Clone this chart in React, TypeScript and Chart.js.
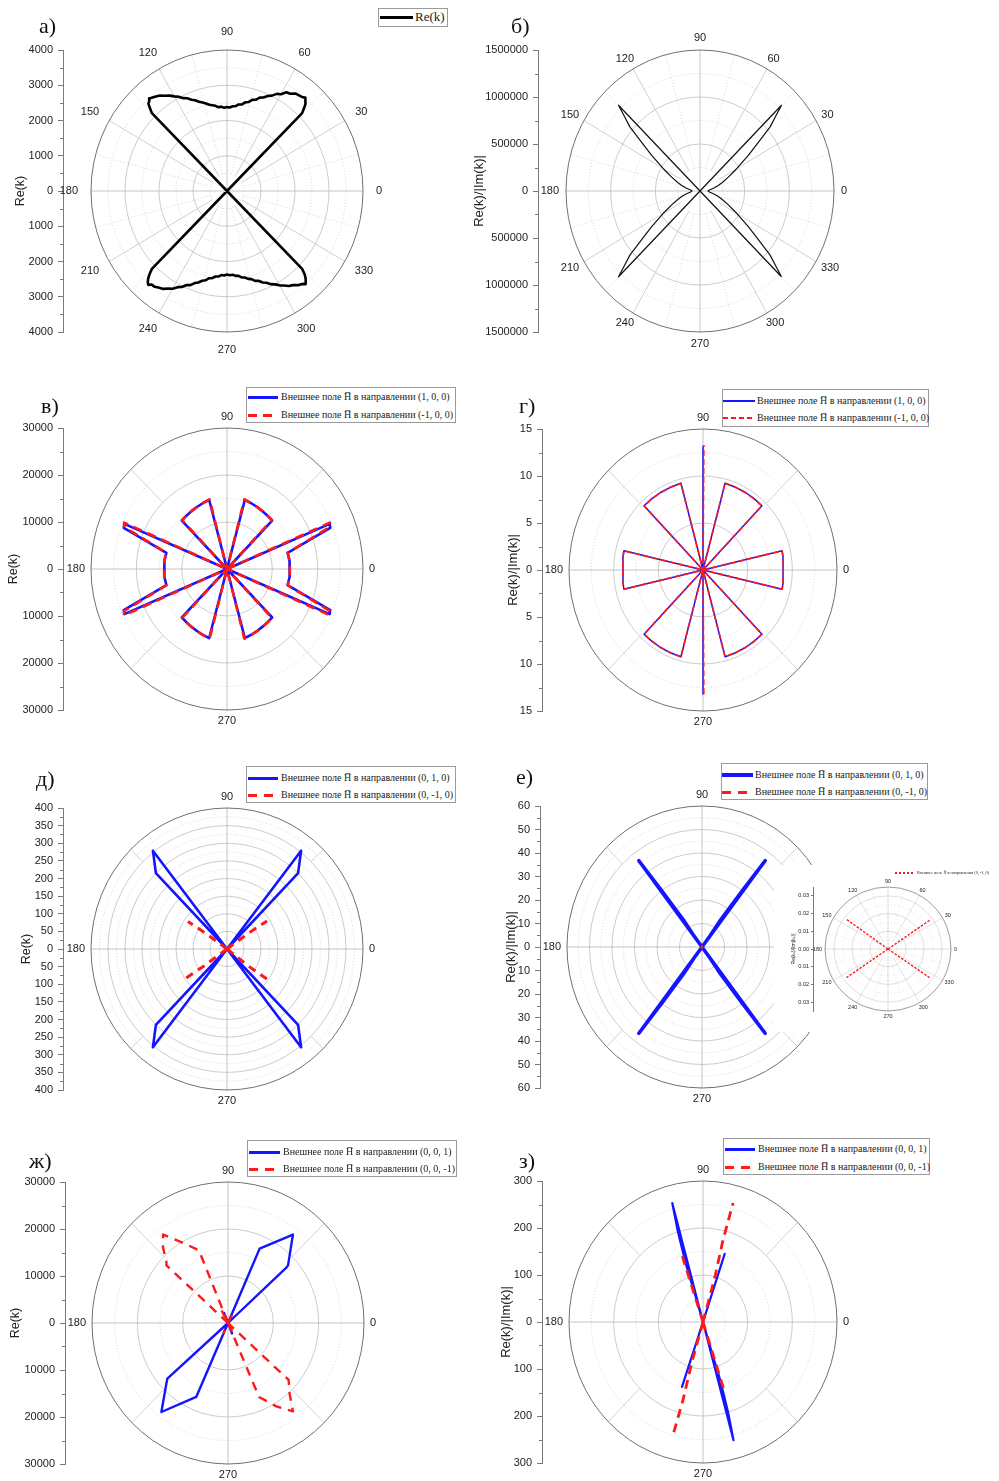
import React, { useEffect, useRef } from 'react';
import { Chart, registerables } from 'chart.js';

Chart.register(...registerables);

const SANS = '"Liberation Sans", Arial, sans-serif';
const SERIF = '"Liberation Serif", "Times New Roman", serif';
const BLUE = '#1414ff';
const RED = '#ff1a1a';

// ---------- Tick values (left linear axes) ----------
const aTicks = [-4000, -3000, -2000, -1000, 0, 1000, 2000, 3000, 4000];
const bTicks = [-1500000, -1000000, -500000, 0, 500000, 1000000, 1500000];
const vTicks = [-30000, -20000, -10000, 0, 10000, 20000, 30000];
const gTicks = [-15, -10, -5, 0, 5, 10, 15];
const dTicks = [-400, -350, -300, -250, -200, -150, -100, -50, 0, 50, 100, 150, 200, 250, 300, 350, 400];
const eTicks = [-60, -50, -40, -30, -20, -10, 0, 10, 20, 30, 40, 50, 60];
const insetTicks = [-0.03, -0.02, -0.01, 0, 0.01, 0.02, 0.03];
const zhTicks = [-30000, -20000, -10000, 0, 10000, 20000, 30000];
const zTicks = [-300, -200, -100, 0, 100, 200, 300];

// ---------- а) Re(k) ----------
const aUpperTheta = [45, 46, 47, 48, 49, 50, 52, 54, 56, 58, 60, 62, 64, 66, 68, 70, 72, 74, 76, 78, 80, 82, 84, 86, 88, 90, 92, 94, 96, 98, 100, 102, 104, 106, 108, 110, 112, 114, 116, 118, 120, 122, 124, 126, 128, 130, 131, 132, 133, 134, 135];
const aUpperR = [3125, 3260, 3390, 3450, 3510, 3470, 3440, 3420, 3330, 3300, 3170, 3120, 3010, 2950, 2860, 2820, 2720, 2690, 2600, 2570, 2490, 2480, 2420, 2410, 2370, 2380, 2360, 2400, 2390, 2440, 2470, 2500, 2560, 2610, 2660, 2740, 2790, 2880, 2930, 3030, 3100, 3190, 3260, 3350, 3400, 3450, 3480, 3420, 3390, 3260, 3125];
const aLowerTheta = [225, 226, 227, 228, 229, 230, 232, 234, 236, 238, 240, 242, 244, 246, 248, 250, 252, 254, 256, 258, 260, 262, 264, 266, 268, 270, 272, 274, 276, 278, 280, 282, 284, 286, 288, 290, 292, 294, 296, 298, 300, 302, 304, 306, 308, 310, 311, 312, 313, 314, 315];
const aLowerR = [3125, 3280, 3400, 3480, 3530, 3460, 3450, 3390, 3350, 3260, 3200, 3090, 3030, 2920, 2880, 2780, 2730, 2650, 2610, 2530, 2510, 2450, 2440, 2390, 2400, 2370, 2390, 2380, 2420, 2430, 2490, 2510, 2570, 2600, 2680, 2710, 2800, 2850, 2940, 3000, 3090, 3160, 3250, 3300, 3390, 3440, 3500, 3450, 3400, 3290, 3125];

// ---------- б) Re(k)/|Im(k)| ----------
const bRightTheta = [-45, -43, -41, -38, -35, -30, -25, -20, -16, -12, -7, -3, 0, 3, 7, 12, 16, 20, 25, 30, 35, 38, 41, 43, 45];
const bRightR = [1290000, 1150000, 1040000, 810000, 660000, 474000, 350000, 265000, 213000, 165000, 113000, 95000, 90000, 95000, 113000, 165000, 213000, 265000, 350000, 474000, 660000, 810000, 1040000, 1150000, 1290000];
const bLeftTheta = [225, 223, 221, 218, 215, 210, 205, 200, 196, 192, 187, 183, 180, 177, 173, 168, 164, 160, 155, 150, 145, 142, 139, 137, 135];
const bLeftR = [1290000, 1150000, 1040000, 810000, 660000, 474000, 350000, 265000, 213000, 165000, 113000, 95000, 90000, 95000, 113000, 165000, 213000, 265000, 350000, 474000, 660000, 810000, 1040000, 1150000, 1290000];

// ---------- в) ----------
const vBlueTheta = [23, 23, 21, 14.3, 7, 0, -7, -14.3, -21, -23, -23, -46, -51, -57, -63, -69, -75, -75, -105, -111, -117, -123, -129, -134, -134, -157, -159, -165.7, -173, 180, 173, 165.7, 159, 157, 157, 134, 129, 123, 117, 111, 105, 105, 75, 69, 63, 57, 51, 46, 46];
const vBlueR = [0, 24600, 24400, 13800, 13900, 13830, 13900, 13800, 24400, 24600, 0, 14340, 14420, 14560, 14750, 14980, 15250, 0, 15250, 14980, 14750, 14560, 14420, 14340, 0, 24600, 24400, 13800, 13900, 13830, 13900, 13800, 24400, 24600, 0, 14340, 14420, 14560, 14750, 14980, 15250, 0, 15250, 14980, 14750, 14560, 14420, 14340, 0];
const vRedTheta = [23.5, 23.5, 21.5, 14.5, 7, 0, -7, -14.5, -21.5, -23.5, -23.5, -46.5, -51, -57, -63, -69, -75.5, -75.5, -104.5, -111, -117, -123, -129, -133.5, -133.5, -156.5, -158.5, -165.5, -173, 180, 173, 165.5, 158.5, 156.5, 156.5, 133.5, 129, 123, 117, 111, 104.5, 104.5, 75.5, 69, 63, 57, 51, 46.5, 46.5];
const vRedR = [0, 24750, 24350, 13850, 13950, 13880, 13950, 13850, 24350, 24750, 0, 14380, 14450, 14600, 14780, 15000, 15300, 0, 15300, 15000, 14780, 14600, 14450, 14380, 0, 24750, 24350, 13850, 13950, 13880, 13950, 13850, 24350, 24750, 0, 14380, 14450, 14600, 14780, 15000, 15300, 0, 15300, 15000, 14780, 14600, 14450, 14380, 0];

// ---------- г) ----------
const gBlueTheta = [13, 13, 9, 5, 0, -5, -9, -13, -13, -46, -53, -60, -67, -75, -75, -90, -90, -105, -113, -120, -127, -134, -134, -167, -171, -175, 180, 175, 171, 167, 167, 134, 127, 120, 113, 105, 105, 90, 90, 75, 67, 60, 53, 46, 46];
const gBlueR = [0, 9.08, 9.07, 8.99, 8.96, 8.99, 9.07, 9.08, 0, 9.5, 9.5, 9.52, 9.53, 9.55, 0, 13.2, 0, 9.55, 9.53, 9.52, 9.5, 9.5, 0, 9.08, 9.07, 8.99, 8.96, 8.99, 9.07, 9.08, 0, 9.5, 9.5, 9.52, 9.53, 9.55, 0, 13.1, 0, 9.55, 9.53, 9.52, 9.5, 9.5, 0];
const gRedTheta = [13, 13, 9, 5, 0, -5, -9, -13, -13, -46, -53, -60, -67, -75, -75, -89.6, -89.6, -89.6, -105, -113, -120, -127, -134, -134, -167, -171, -175, 180, 175, 171, 167, 167, 134, 127, 120, 113, 105, 105, 89.6, 89.6, 89.6, 75, 67, 60, 53, 46, 46];
const gRedR = [0, 9.1, 9.06, 9.0, 8.98, 9.0, 9.06, 9.1, 0, 9.48, 9.5, 9.5, 9.52, 9.56, 0, 13.3, null, 0, 9.56, 9.52, 9.5, 9.5, 9.48, 0, 9.1, 9.06, 9.0, 8.98, 9.0, 9.06, 9.1, 0, 9.48, 9.5, 9.5, 9.52, 9.56, 0, 13.3, null, 0, 9.56, 9.52, 9.5, 9.5, 9.48, 0];

// ---------- д) ----------
const dBlueTheta = [52, 52, 45.8, 45.8, 128, 134.2, 134.2, 232, 225.8, 225.8, 308, 314.2, 314.2];
const dBlueR = [0, 354, 300, 0, 354, 300, 0, 354, 300, 0, 354, 300, 0];
const dRedTheta = [34, 35.5, 34, 34, 145.7, 144.5, 145.7, 145.7, 214.3, 215.5, 214.3, 214.3, 324, 322.5, 324];
const dRedR = [0, 75, 142, null, 0, 70, 139, null, 0, 80, 150.8, null, 0, 78, 145];

// ---------- е) ----------
const eBlueTheta = [52.6, 52.6, 53.3, 54.5, 53, 52.6, 127.4, 127.4, 126.7, 125.5, 127, 127.4, 232.6, 232.6, 233.3, 234.5, 233, 232.6, 307.4, 307.4, 306.7, 305.5, 307, 307.4];
const eBlueR = [0, 46.3, 30, 14, 5, 0, 0, 46.3, 30, 14, 5, 0, 0, 46.3, 30, 14, 5, 0, 0, 46.3, 30, 14, 5, 0];
const eRedTheta = [35, 35, 35, 144, 144, 144, 215, 215, 215, 325, 325];
const eRedR = [0, 0.0284, null, 0, 0.029, null, 0, 0.029, null, 0, 0.0283];

// ---------- ж) ----------
const zhBlueTheta = [66.2, 66.2, 52.7, 42.8, 42.5, 42.5, 112, 112, 221.5, 221.5, 223.5, 232.2, 246, 246, 292, 292];
const zhBlueR = [0, 17290, 23640, 18050, 17536, 0, 2300, 0, 0, 17870, 18750, 23970, 17225, 0, 2400, 0];
const zhRedTheta = [112.5, 112.5, 120.9, 127.3, 131.6, 136.5, 137.9, 137.9, 118, 118, 62, 62, 62, 293.5, 293.5, 301, 307.3, 312.1, 317.8, 317.8, 245, 245, 298, 298];
const zhRedR = [0, 16740, 20075, 23640, 21611, 18700, 18320, 0, 3000, null, 0, 2400, null, 0, 17166, 20685, 23640, 20275, 18050, 0, 2600, null, 0, 2800];

// ---------- з) ----------
const zBlueTheta = [105.2, 105.2, 106.3, 107.3, 107, 107, 71.5, 71.5, 285.2, 286.3, 287.3, 287, 287, 251.2, 251.2];
const zBlueR = [0, 262, 200, 130, 60, 0, 153, 0, 260.5, 200, 130, 60, 0, 146, 0];
const zRedTheta = [74.5, 74.5, 75.6, 75.1, 75.1, 108.3, 108.3, 108.3, 253.8, 253.8, 254.9, 254.4, 254.4, 288, 288];
const zRedR = [0, 100, 180, 262, null, 0, 149.5, null, 0, 90, 170, 250, null, 0, 149.5];

// ---------- legend texts ----------
const fieldLabel = (d: string) => `Внешнее поле H\u0305 в направлении (${d})`;
const dirsX = ['1, 0, 0', '-1, 0, 0'];
const dirsY = ['0, 1, 0', '0, -1, 0'];
const dirsZ = ['0, 0, 1', '0, 0, -1'];

const toXY = (theta: number[], r: (number | null)[]) =>
  theta.map((t, i) => {
    const v = r[i];
    if (v === null || v === undefined) return { x: NaN, y: NaN };
    return { x: v * Math.cos((t * Math.PI) / 180), y: v * Math.sin((t * Math.PI) / 180) };
  });

const polarPlugin = {
  id: 'polarGrid',
  beforeDatasetsDraw(chart: any, _args: any, o: any) {
    const ctx = chart.ctx;
    const xs = chart.scales.x;
    const ys = chart.scales.y;
    const cx = xs.getPixelForValue(0);
    const cy = ys.getPixelForValue(0);
    const R = o.R;
    const kx = (xs.getPixelForValue(R) - cx) / R;
    const ky = (cy - ys.getPixelForValue(R)) / R;
    const lw = o.gridWidth;
    ctx.save();
    const n = Math.round(R / o.minor);
    const per = Math.round(o.major / o.minor);
    for (let i = 1; i < n; i++) {
      const v = i * o.minor;
      const isMajor = i % per === 0;
      ctx.beginPath();
      ctx.setLineDash(isMajor ? [] : [1, 2]);
      ctx.strokeStyle = isMajor ? '#bfbfbf' : '#cdcdcd';
      ctx.lineWidth = lw;
      ctx.ellipse(cx, cy, v * kx, v * ky, 0, 0, Math.PI * 2);
      ctx.stroke();
    }
    const ray = (a: number, r0: number, r1: number, dash: number[], col: string) => {
      const c = Math.cos((a * Math.PI) / 180);
      const s = Math.sin((a * Math.PI) / 180);
      ctx.beginPath();
      ctx.setLineDash(dash);
      ctx.strokeStyle = col;
      ctx.lineWidth = lw;
      ctx.moveTo(cx + r0 * kx * c, cy - r0 * ky * s);
      ctx.lineTo(cx + r1 * kx * c, cy - r1 * ky * s);
      ctx.stroke();
    };
    if (o.mode === 'full') {
      for (let a = 0; a < 360; a += 15) {
        if (a % 90 === 0) ray(a, 0, R, [], '#b8b8b8');
        else if (a % 30 === 0) ray(a, o.minor, R, [], '#c4c4c4');
        else ray(a, o.minor, R, [1, 2], '#cdcdcd');
      }
    } else {
      for (let a = 0; a < 360; a += 45) {
        if (a % 90 === 0) ray(a, 0, R, [], '#b4b4b4');
        else ray(a, R - o.major, R, [], '#c8c8c8');
      }
    }
    ctx.setLineDash([]);
    ctx.strokeStyle = '#707070';
    ctx.lineWidth = o.outerWidth;
    ctx.beginPath();
    ctx.ellipse(cx, cy, R * kx, R * ky, 0, 0, Math.PI * 2);
    ctx.stroke();
    const angles = o.mode === 'full' ? [0, 30, 60, 90, 120, 150, 180, 210, 240, 270, 300, 330] : [0, 90, 180, 270];
    ctx.font = `${o.labelFont}px ${SANS}`;
    ctx.fillStyle = '#222';
    ctx.textAlign = 'center';
    ctx.textBaseline = 'middle';
    for (const a of angles) {
      const c = Math.cos((a * Math.PI) / 180);
      const s = Math.sin((a * Math.PI) / 180);
      const txt = String(a);
      const hw = ctx.measureText(txt).width / 2;
      const hh = o.labelFont * 0.45;
      const x = cx + (R * kx + o.labelOffset) * c + hw * c;
      const y = cy - (R * ky + o.labelOffset) * s - hh * s;
      ctx.fillText(txt, x, y);
    }
    ctx.restore();
  },
  afterDraw(chart: any, _args: any, o: any) {
    if (!o.minorTick) return;
    const ctx = chart.ctx;
    const ys = chart.scales.y;
    const x0 = chart.chartArea.left;
    const n = Math.round(o.R / o.minorTick);
    const per = Math.round(o.majorTick / o.minorTick);
    ctx.save();
    ctx.strokeStyle = '#7a7a7a';
    ctx.lineWidth = 1;
    for (let i = -n; i <= n; i++) {
      if (i % per === 0) continue;
      const y = Math.round(ys.getPixelForValue(i * o.minorTick)) + 0.5;
      ctx.beginPath();
      ctx.moveTo(x0 - 3, y);
      ctx.lineTo(x0, y);
      ctx.stroke();
    }
    ctx.restore();
  },
};

type Series = { theta: number[]; r: (number | null)[]; color: string; width: number; dash?: number[]; cap?: string; order?: number };
type PanelCfg = {
  key: string; left: number; top: number; w: number; h: number;
  axisX: number; cx: number; cy: number; rx: number; ry: number; R: number;
  ticks: number[]; majorTick: number; minorTick: number; decimals: number;
  circleMajor: number; circleMinor: number; mode: 'full' | 'cardinal'; labelOffset: number;
  title: string; titleX: number; titleFont: number; tickFont: number; labelFont: number;
  tickLen: number; tickPad: number; gridWidth: number; outerWidth: number; bg?: string;
  series: Series[];
};

function PolarPanel({ cfg }: { cfg: PanelCfg }) {
  const ref = useRef<HTMLCanvasElement | null>(null);
  useEffect(() => {
    const c = cfg;
    const padLeft = Math.max(0, c.titleX - (c.titleFont * 1.2) / 2);
    const chart = new Chart(ref.current as HTMLCanvasElement, {
      type: 'scatter',
      data: {
        datasets: c.series.map((s, i) => ({
          label: 's' + i,
          data: toXY(s.theta, s.r),
          showLine: true,
          spanGaps: false,
          borderColor: s.color,
          backgroundColor: s.color,
          borderWidth: s.width,
          borderDash: s.dash || [],
          borderJoinStyle: 'round',
          borderCapStyle: s.cap || 'butt',
          pointRadius: 0,
          pointHoverRadius: 0,
          pointHitRadius: 0,
          tension: 0,
          fill: false,
          clip: false,
          order: s.order ?? i,
        })) as any,
      },
      options: {
        responsive: false,
        maintainAspectRatio: false,
        animation: false,
        events: [],
        layout: {
          padding: {
            left: padLeft,
            top: c.cy - c.ry,
            bottom: c.h - (c.cy + c.ry),
            right: c.w - (c.cx + c.rx),
          },
        },
        plugins: {
          legend: { display: false },
          tooltip: { enabled: false },
          polarGrid: {
            R: c.R, major: c.circleMajor, minor: c.circleMinor, mode: c.mode,
            labelOffset: c.labelOffset, labelFont: c.labelFont, minorTick: c.minorTick,
            majorTick: c.majorTick, gridWidth: c.gridWidth, outerWidth: c.outerWidth,
          },
        } as any,
        scales: {
          x: { type: 'linear', display: false, min: (-c.R * (c.cx - c.axisX)) / c.rx, max: c.R },
          y: {
            type: 'linear',
            position: 'left',
            min: -c.R,
            max: c.R,
            afterBuildTicks: (s: any) => { s.ticks = c.ticks.map((v) => ({ value: v })); },
            afterFit: (s: any) => { s.width = c.axisX - padLeft; },
            ticks: {
              autoSkip: false,
              maxRotation: 0,
              padding: c.tickPad,
              color: '#222',
              font: { family: SANS, size: c.tickFont },
              callback: (v: any) => Math.abs(Number(v)).toFixed(c.decimals),
            },
            grid: { drawOnChartArea: false, drawTicks: true, tickLength: c.tickLen, color: '#7a7a7a', lineWidth: 1 },
            border: { display: true, color: '#7a7a7a', width: 1 },
            title: { display: true, text: c.title, color: '#222', font: { family: SANS, size: c.titleFont }, padding: { top: 0, bottom: 0 } },
          } as any,
        },
      },
      plugins: [polarPlugin as any],
    });
    return () => chart.destroy();
  }, [cfg]);
  return (
    <canvas
      ref={ref}
      width={cfg.w}
      height={cfg.h}
      style={{ position: 'absolute', left: cfg.left, top: cfg.top, width: cfg.w, height: cfg.h, background: cfg.bg || 'transparent' }}
    />
  );
}

const base = { tickFont: 11, labelFont: 11, tickLen: 5, tickPad: 5, gridWidth: 0.8, outerWidth: 1, decimals: 0 };

const panels: PanelCfg[] = [
  { ...base, key: 'a', left: 0, top: 0, w: 470, h: 372, axisX: 63, cx: 227, cy: 191, rx: 136, ry: 141, R: 4000,
    ticks: aTicks, majorTick: 1000, minorTick: 500, circleMajor: 1000, circleMinor: 500, mode: 'full', labelOffset: 13,
    title: 'Re(k)', titleX: 21, titleFont: 12.5,
    series: [{ theta: [45, ...aUpperTheta, 135, ...aLowerTheta, 315], r: [0, ...aUpperR, 0, ...aLowerR, 0], color: '#000', width: 2.6 }] },
  { ...base, key: 'b', left: 470, top: 0, w: 529, h: 372, axisX: 68, cx: 230, cy: 191, rx: 134, ry: 141, R: 1500000,
    ticks: bTicks, majorTick: 500000, minorTick: 250000, circleMajor: 500000, circleMinor: 250000, mode: 'full', labelOffset: 7,
    title: 'Re(k)/|Im(k)|', titleX: 9, titleFont: 13,
    series: [{ theta: [...bRightTheta, 45, ...bLeftTheta, 135, -45], r: [...bRightR, 0, ...bLeftR, 0, 1290000], color: '#111', width: 1.2 }] },
  { ...base, key: 'v', left: 0, top: 380, w: 470, h: 360, axisX: 63, cx: 227, cy: 189, rx: 136, ry: 141, R: 30000,
    ticks: vTicks, majorTick: 10000, minorTick: 5000, circleMajor: 10000, circleMinor: 5000, mode: 'cardinal', labelOffset: 6,
    title: 'Re(k)', titleX: 14, titleFont: 12.5,
    series: [
      { theta: vBlueTheta, r: vBlueR, color: BLUE, width: 2.6, order: 2 },
      { theta: vRedTheta, r: vRedR, color: RED, width: 2.6, dash: [9, 6], order: 1 },
    ] },
  { ...base, key: 'g', left: 470, top: 380, w: 529, h: 360, axisX: 72, cx: 233, cy: 190, rx: 134, ry: 141, R: 15,
    ticks: gTicks, majorTick: 5, minorTick: 2.5, circleMajor: 5, circleMinor: 2.5, mode: 'cardinal', labelOffset: 6,
    title: 'Re(k)/|Im(k)|', titleX: 43, titleFont: 13,
    series: [
      { theta: gBlueTheta, r: gBlueR, color: BLUE, width: 1.5, order: 2 },
      { theta: gRedTheta, r: gRedR, color: RED, width: 1.7, dash: [6, 3], order: 1 },
    ] },
  { ...base, key: 'd', left: 0, top: 755, w: 470, h: 365, axisX: 63, cx: 227, cy: 194, rx: 136, ry: 141, R: 400,
    ticks: dTicks, majorTick: 50, minorTick: 25, circleMajor: 50, circleMinor: 25, mode: 'cardinal', labelOffset: 6,
    title: 'Re(k)', titleX: 27, titleFont: 12.5,
    series: [
      { theta: dBlueTheta, r: dBlueR, color: BLUE, width: 2.6, order: 2 },
      { theta: dRedTheta, r: dRedR, color: RED, width: 3, dash: [8, 6], order: 1 },
    ] },
  { ...base, key: 'e', left: 470, top: 755, w: 529, h: 365, axisX: 70, cx: 232, cy: 192, rx: 135, ry: 141, R: 60,
    ticks: eTicks, majorTick: 10, minorTick: 5, circleMajor: 10, circleMinor: 5, mode: 'cardinal', labelOffset: 6,
    title: 'Re(k)/|Im(k)|', titleX: 41, titleFont: 13,
    series: [
      { theta: eBlueTheta, r: eBlueR, color: BLUE, width: 3.5, order: 2 },
      { theta: eRedTheta, r: eRedR, color: RED, width: 3, dash: [6, 4], cap: 'round', order: 1 },
    ] },
  { ...base, key: 'einset', left: 774, top: 865, w: 225, h: 167, axisX: 39, cx: 114, cy: 84, rx: 63, ry: 62, R: 0.035,
    ticks: insetTicks, majorTick: 0.01, minorTick: 0, circleMajor: 0.01, circleMinor: 0.005, mode: 'full', labelOffset: 3,
    title: 'Re(kₓ)/|Im(kₓ)|', titleX: 20, titleFont: 5, tickFont: 5.5, labelFont: 5.5, tickLen: 2, tickPad: 2,
    gridWidth: 0.5, outerWidth: 0.7, decimals: 2, bg: '#fff',
    series: [{ theta: eRedTheta, r: eRedR, color: RED, width: 1.4, dash: [2.5, 1.5] }] },
  { ...base, key: 'zh', left: 0, top: 1130, w: 470, h: 351, axisX: 65, cx: 228, cy: 193, rx: 136, ry: 141, R: 30000,
    ticks: zhTicks, majorTick: 10000, minorTick: 5000, circleMajor: 10000, circleMinor: 5000, mode: 'cardinal', labelOffset: 6,
    title: 'Re(k)', titleX: 16, titleFont: 12.5,
    series: [
      { theta: zhBlueTheta, r: zhBlueR, color: BLUE, width: 2.4, order: 2 },
      { theta: zhRedTheta, r: zhRedR, color: RED, width: 2.4, dash: [9, 7], order: 1 },
    ] },
  { ...base, key: 'z', left: 470, top: 1130, w: 529, h: 351, axisX: 72, cx: 233, cy: 192, rx: 134, ry: 141, R: 300,
    ticks: zTicks, majorTick: 100, minorTick: 50, circleMajor: 100, circleMinor: 50, mode: 'cardinal', labelOffset: 6,
    title: 'Re(k)/|Im(k)|', titleX: 36, titleFont: 13,
    series: [
      { theta: zBlueTheta, r: zBlueR, color: BLUE, width: 2.2, order: 2 },
      { theta: zRedTheta, r: zRedR, color: RED, width: 2.8, dash: [9, 6], order: 1 },
    ] },
];

const panelLetters = [
  { t: 'а)', l: 39, y: 14 },
  { t: 'б)', l: 511, y: 14 },
  { t: 'в)', l: 41, y: 394 },
  { t: 'г)', l: 519, y: 394 },
  { t: 'д)', l: 36, y: 767 },
  { t: 'е)', l: 516, y: 765 },
  { t: 'ж)', l: 29, y: 1149 },
  { t: 'з)', l: 519, y: 1149 },
];

type LegRow = { y: number; text: string; color: string; lw: number; dash?: number[] };
type Leg = { box?: { l: number; t: number; w: number; h: number }; font: number; lineX: number; lineW: number; textX: number; rows: LegRow[] };

const legends: Leg[] = [
  { box: { l: 378, t: 8, w: 70, h: 19 }, font: 13, lineX: 380, lineW: 33, textX: 415,
    rows: [{ y: 17, text: 'Re(k)', color: '#000', lw: 3 }] },
  { box: { l: 246, t: 387, w: 210, h: 36 }, font: 10, lineX: 248, lineW: 30, textX: 281,
    rows: [{ y: 397, text: fieldLabel(dirsX[0]), color: BLUE, lw: 3 }, { y: 415, text: fieldLabel(dirsX[1]), color: RED, lw: 3, dash: [9, 6] }] },
  { box: { l: 722, t: 389, w: 207, h: 38 }, font: 10, lineX: 723, lineW: 32, textX: 757,
    rows: [{ y: 401, text: fieldLabel(dirsX[0]), color: BLUE, lw: 1.5 }, { y: 418, text: fieldLabel(dirsX[1]), color: RED, lw: 2, dash: [5, 3] }] },
  { box: { l: 246, t: 766, w: 210, h: 37 }, font: 10, lineX: 248, lineW: 30, textX: 281,
    rows: [{ y: 778, text: fieldLabel(dirsY[0]), color: BLUE, lw: 3 }, { y: 795, text: fieldLabel(dirsY[1]), color: RED, lw: 3, dash: [9, 7] }] },
  { box: { l: 721, t: 763, w: 207, h: 37 }, font: 10, lineX: 722, lineW: 31, textX: 755,
    rows: [{ y: 775, text: fieldLabel(dirsY[0]), color: BLUE, lw: 3.5 }, { y: 792, text: fieldLabel(dirsY[1]), color: RED, lw: 3, dash: [9, 7] }] },
  { font: 4.2, lineX: 895, lineW: 20, textX: 917,
    rows: [{ y: 873, text: fieldLabel(dirsY[1]), color: RED, lw: 1.3, dash: [2.5, 1.5] }] },
  { box: { l: 247, t: 1140, w: 210, h: 37 }, font: 10, lineX: 249, lineW: 31, textX: 283,
    rows: [{ y: 1152, text: fieldLabel(dirsZ[0]), color: BLUE, lw: 3 }, { y: 1169, text: fieldLabel(dirsZ[1]), color: RED, lw: 3, dash: [9, 7] }] },
  { box: { l: 723, t: 1138, w: 207, h: 37 }, font: 10, lineX: 725, lineW: 30, textX: 758,
    rows: [{ y: 1149, text: fieldLabel(dirsZ[0]), color: BLUE, lw: 3 }, { y: 1167, text: fieldLabel(dirsZ[1]), color: RED, lw: 3, dash: [9, 7] }] },
];

function Legend({ leg }: { leg: Leg }) {
  return (
    <>
      {leg.box && (
        <div style={{ position: 'absolute', left: leg.box.l, top: leg.box.t, width: leg.box.w, height: leg.box.h, border: '1px solid #9a9a9a', background: '#fff', boxSizing: 'border-box' }} />
      )}
      {leg.rows.map((r, i) => (
        <React.Fragment key={i}>
          <div
            style={{
              position: 'absolute', left: leg.lineX, top: r.y - r.lw / 2, width: leg.lineW, height: r.lw,
              background: r.dash
                ? `repeating-linear-gradient(to right, ${r.color} 0px, ${r.color} ${r.dash[0]}px, transparent ${r.dash[0]}px, transparent ${r.dash[0] + r.dash[1]}px)`
                : r.color,
            }}
          />
          <div
            style={{
              position: 'absolute', left: leg.textX, top: r.y - leg.font * 0.62, fontFamily: SERIF, fontSize: leg.font,
              lineHeight: `${leg.font * 1.2}px`, color: '#222', whiteSpace: 'nowrap',
            }}
          >
            {r.text}
          </div>
        </React.Fragment>
      ))}
    </>
  );
}

export default function App() {
  return (
    <div style={{ position: 'absolute', left: 0, top: 0, width: 999, height: 1481, background: '#fff', overflow: 'hidden' }}>
      {panels.map((p) => (
        <PolarPanel key={p.key} cfg={p} />
      ))}
      {panelLetters.map((p) => (
        <div key={p.t} style={{ position: 'absolute', left: p.l, top: p.y, fontFamily: SERIF, fontSize: 22, lineHeight: '24px', color: '#111' }}>
          {p.t}
        </div>
      ))}
      {legends.map((l, i) => (
        <Legend key={i} leg={l} />
      ))}
    </div>
  );
}
